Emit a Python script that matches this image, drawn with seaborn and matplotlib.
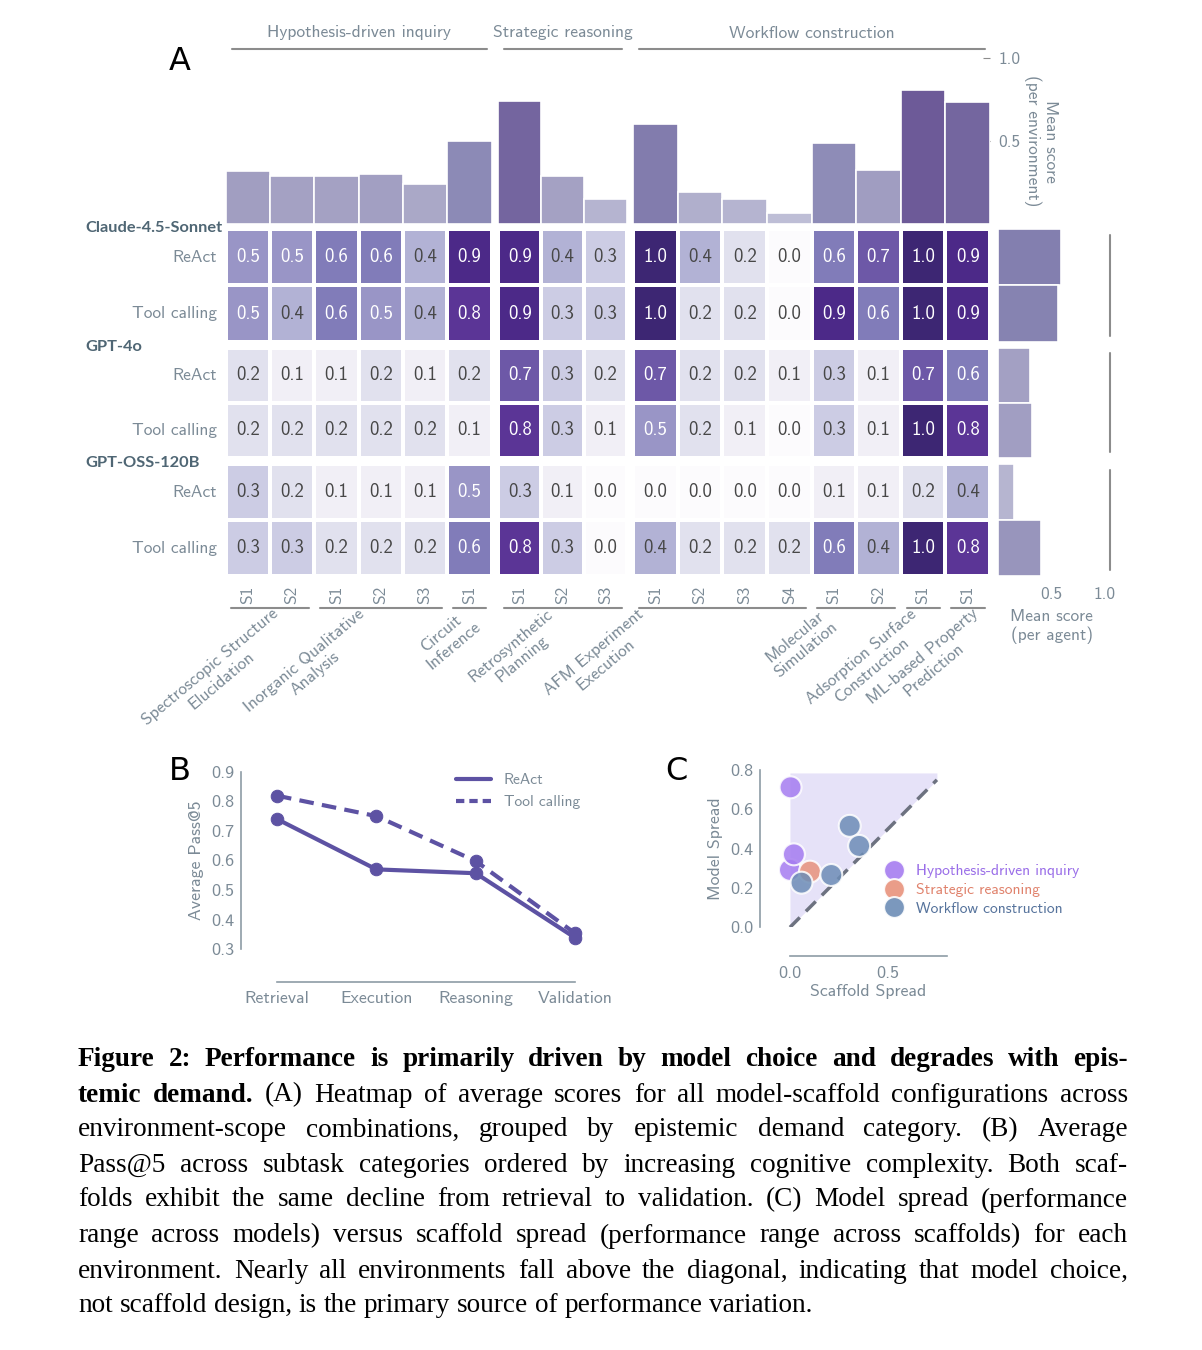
import numpy as np
import pandas as pd
import matplotlib
matplotlib.use('Agg')
import matplotlib.pyplot as plt
from matplotlib.lines import Line2D
from matplotlib.colors import LinearSegmentedColormap
from matplotlib import transforms
import seaborn as sns

sns.set_style('white')
plt.rcParams['font.family'] = ['cmss10', 'DejaVu Sans']
plt.rcParams['axes.unicode_minus'] = False

TXT = '#7b8a96'
DARK = '#4f6674'
SPINE = '#8e9ca6'
RULE = '#8c8c8c'
LINE = '#5d52a3'

# ---- data ----
groups = ['Hypothesis-driven inquiry', 'Strategic reasoning', 'Workflow construction']
envs = ['Spectroscopic Structure\nElucidation', 'Inorganic Qualitative\nAnalysis',
        'Circuit\nInference', 'Retrosynthetic\nPlanning', 'AFM Experiment\nExecution',
        'Molecular\nSimulation', 'Adsorption Surface\nConstruction',
        'ML-based Property\nPrediction']
env_group = [0, 0, 0, 1, 2, 2, 2, 2]
env_scopes = [['S1', 'S2'], ['S1', 'S2', 'S3'], ['S1'], ['S1', 'S2', 'S3'],
              ['S1', 'S2', 'S3', 'S4'], ['S1', 'S2'], ['S1'], ['S1']]
models = ['Claude-4.5-Sonnet', 'GPT-4o', 'GPT-OSS-120B']
scaffolds = ['ReAct', 'Tool calling']

scores = np.array([
    [0.5, 0.5, 0.6, 0.6, 0.4, 0.9, 0.9, 0.4, 0.3, 1.0, 0.4, 0.2, 0.0, 0.6, 0.7, 1.0, 0.9],
    [0.5, 0.4, 0.6, 0.5, 0.4, 0.8, 0.9, 0.3, 0.3, 1.0, 0.2, 0.2, 0.0, 0.9, 0.6, 1.0, 0.9],
    [0.2, 0.1, 0.1, 0.2, 0.1, 0.2, 0.7, 0.3, 0.2, 0.7, 0.2, 0.2, 0.1, 0.3, 0.1, 0.7, 0.6],
    [0.2, 0.2, 0.2, 0.2, 0.2, 0.1, 0.8, 0.3, 0.1, 0.5, 0.2, 0.1, 0.0, 0.3, 0.1, 1.0, 0.8],
    [0.3, 0.2, 0.1, 0.1, 0.1, 0.5, 0.3, 0.1, 0.0, 0.0, 0.0, 0.0, 0.0, 0.1, 0.1, 0.2, 0.4],
    [0.3, 0.3, 0.2, 0.2, 0.2, 0.6, 0.8, 0.3, 0.0, 0.4, 0.2, 0.2, 0.2, 0.6, 0.4, 1.0, 0.8],
])
env_mean = [0.32, 0.285, 0.29, 0.30, 0.24, 0.50, 0.74, 0.285, 0.15,
            0.60, 0.19, 0.15, 0.066, 0.486, 0.325, 0.805, 0.735]
agent_mean = [0.584, 0.56, 0.296, 0.315, 0.143, 0.40]

subtasks = ['Retrieval', 'Execution', 'Reasoning', 'Validation']
react_pass = [0.74, 0.57, 0.557, 0.339]
tool_pass = [0.819, 0.75, 0.598, 0.354]

scaffold_spread = [0.0, 0.02, 0.003, 0.102, 0.059, 0.305, 0.353, 0.211]
model_spread = [0.292, 0.371, 0.712, 0.283, 0.227, 0.516, 0.414, 0.266]
grp_colors = ['#a57cf0', '#e8927c', '#6d8db6']
grp_text = ['#9a6ee8', '#e0826c', '#56739c']

# ---- layout (pixels) ----
W, H = 1202, 1350
col_px = [(225.7, 491.7), (498.3, 626.7), (633.3, 990.0)]
row_px = [(229.3, 341.7), (347.7, 457.7), (464.3, 576.0)]
env_label_px = [271, 357, 462, 546, 637, 819, 909, 971]

fig = plt.figure(figsize=(W / 100, H / 100), dpi=100)


def px_axes(x0, y0, x1, y1):
    return fig.add_axes([x0 / W, 1 - y1 / H, (x1 - x0) / W, (y1 - y0) / H])


def fy(y):
    return 1 - y / H


col_env = [e for e, sc in enumerate(env_scopes) for _ in sc]
col_scope = [s for sc in env_scopes for s in sc]
col_group = [env_group[e] for e in col_env]
col_id = [f'{e}-{s}' for e, s in zip(col_env, col_scope)]
grp_cols = [[k for k, g in enumerate(col_group) if g == j] for j in range(3)]

# Purples, with a slightly softer dark end like the original
purp = plt.cm.Purples
cell_cmap = LinearSegmentedColormap.from_list(
    'cells', [purp(x) for x in np.linspace(0, 0.88, 12)] + ['#4a2a86', '#3d2673'])

# ---- A: heatmap blocks ----
hm_bottom = {}
for i in range(3):
    for j in range(3):
        ax = px_axes(col_px[j][0], row_px[i][0], col_px[j][1], row_px[i][1])
        block = pd.DataFrame(scores[2 * i:2 * i + 2, grp_cols[j]], index=scaffolds,
                             columns=[col_scope[k] for k in grp_cols[j]])
        sns.heatmap(block, ax=ax, cmap=cell_cmap, vmin=0, vmax=1, annot=True, fmt='.1f',
                    cbar=False, linewidths=1.5, linecolor='white',
                    annot_kws={'fontsize': 13.5},
                    xticklabels=(i == 2), yticklabels=(j == 0))
        for t in ax.texts:
            if t.get_color() != 'w':
                t.set_color('#474747')
        ax.tick_params(length=0)
        ax.set_xlabel('')
        ax.set_ylabel('')
        if j == 0:
            ax.set_yticklabels(scaffolds, rotation=0, color=TXT, fontsize=12.5)
            ax.tick_params(axis='y', pad=6)
        if i == 2:
            ax.set_xticklabels(block.columns, rotation=90, color=TXT, fontsize=12.5)
            ax.tick_params(axis='x', pad=7)
            hm_bottom[j] = ax

for i, m in enumerate(models):
    fig.text(85 / W, fy(row_px[i][0] - 1), m, family=['Lato', 'DejaVu Sans'],
             weight='bold', fontsize=11.8, color=DARK, ha='left', va='center')

# environment underlines and names
for e, sc in enumerate(env_scopes):
    j = env_group[e]
    ks = [k for k in grp_cols[j] if col_env[k] == e]
    loc = [grp_cols[j].index(k) for k in ks]
    ax = hm_bottom[j]
    tr = transforms.blended_transform_factory(ax.transData, fig.transFigure)
    ax.add_line(Line2D([loc[0] + 0.13, loc[-1] + 0.88], [fy(608), fy(608)],
                       transform=tr, color=RULE, lw=1.5, clip_on=False))
    fig.text(env_label_px[e] / W, fy(606), envs[e], rotation=40, rotation_mode='anchor',
             ha='right', va='top', multialignment='center', color=TXT, fontsize=12.5)

# ---- A: top bars (mean per environment) ----
env_df = pd.DataFrame({'col': col_id, 'mean': env_mean, 'group': col_group})
bar_pal = {c: purp(0.35 + 0.5 * v) for c, v in zip(col_id, env_mean)}
for j in range(3):
    ax = px_axes(col_px[j][0], 58, col_px[j][1], 223.5)
    sub = env_df[env_df['group'] == j]
    sns.barplot(data=sub, x='col', y='mean', hue='col', palette=bar_pal, width=1,
                edgecolor='white', linewidth=1.2, legend=False, ax=ax)
    ax.set_xlim(-0.5, len(sub) - 0.5)
    ax.set_ylim(0, 1)
    for s in ax.spines.values():
        s.set_visible(False)
    ax.set_xticks([])
    ax.set_xlabel('')
    ax.set_ylabel('')
    if j == 2:
        ax.yaxis.tick_right()
        ax.set_yticks([0.5, 1.0])
        ax.set_yticklabels(['0.5', '1.0'])
        ax.tick_params(axis='y', direction='in', length=5, color=RULE,
                       labelcolor=TXT, labelsize=12.5, pad=6)
    else:
        ax.set_yticks([])

for j, g in enumerate(groups):
    x0, x1 = col_px[j]
    fig.add_artist(Line2D([(x0 + 6) / W, (x1 - 5) / W], [fy(49.3), fy(49.3)],
                          color=RULE, lw=1.5))
    fig.text((x0 + x1) / 2 / W, fy(33), g, ha='center', va='center', color=TXT,
             fontsize=12.6)

fig.text(1041 / W, fy(141), 'Mean score\n(per environment)', rotation=270,
         ha='center', va='center', multialignment='center', color=TXT, fontsize=12.5,
         linespacing=1.1)

# ---- A: right bars (mean per agent) ----
agent_df = pd.DataFrame({'agent': [f'{m} {s}' for m in models for s in scaffolds],
                         'mean': agent_mean, 'model': np.repeat(np.arange(3), 2)})
agent_pal = {a: purp(0.35 + 0.5 * v) for a, v in zip(agent_df['agent'], agent_mean)}
for i in range(3):
    ax = px_axes(998.4, row_px[i][0], 1105, row_px[i][1])
    sub = agent_df[agent_df['model'] == i]
    sns.barplot(data=sub, y='agent', x='mean', hue='agent', palette=agent_pal,
                orient='h', width=1, edgecolor='white', linewidth=1.2, legend=False, ax=ax)
    ax.set_xlim(0, 1)
    ax.set_ylim(1.5, -0.5)
    for s in ax.spines.values():
        s.set_visible(False)
    ax.set_yticks([])
    ax.set_ylabel('')
    ax.axvline(1.046, ymin=0.05, ymax=0.95, color=RULE, lw=1.5, clip_on=False)
    if i == 2:
        ax.set_xticks([0.5, 1.0])
        ax.set_xticklabels(['0.5', '1.0'])
        ax.tick_params(axis='x', direction='in', length=4, color=RULE,
                       labelcolor=TXT, labelsize=12.5, pad=8)
        ax.set_xlabel('Mean score\n(per agent)', color=TXT, fontsize=12.5, labelpad=5)
    else:
        ax.set_xticks([])
        ax.set_xlabel('')

# ---- B: pass@5 by subtask ----
ax = px_axes(241, 771.7, 590, 949.3)
pass_df = pd.DataFrame({'subtask': subtasks * 2,
                        'scaffold': [scaffolds[0]] * 4 + [scaffolds[1]] * 4,
                        'pass': react_pass + tool_pass})
sns.lineplot(data=pass_df, x='subtask', y='pass', style='scaffold', color=LINE,
             markers={scaffolds[0]: 'o', scaffolds[1]: 'o'},
             dashes={scaffolds[0]: '', scaffolds[1]: (3.5, 2)},
             markersize=9, linewidth=3, markeredgecolor=LINE, legend=False,
             sort=False, ax=ax)
ax.set_xlim(-0.362, 3.15)
ax.set_ylim(0.3, 0.9)
ax.set_yticks(np.arange(0.3, 0.91, 0.1))
ax.set_yticklabels([f'{v:.1f}' for v in np.arange(0.3, 0.91, 0.1)])
ax.set_xticks([0.5, 1.5, 2.5], minor=True)
sns.despine(ax=ax)
ax.spines['left'].set_bounds(0.3, 0.9)
ax.spines['bottom'].set_position(('outward', 23.3))
ax.spines['bottom'].set_bounds(0, 3)
for s in ['left', 'bottom']:
    ax.spines[s].set_color(SPINE)
    ax.spines[s].set_linewidth(1.2)
ax.tick_params(which='both', direction='in', length=5, color=SPINE, width=1.2,
               labelcolor=TXT, labelsize=13)
ax.tick_params(axis='x', labelsize=12.8, pad=7)
ax.tick_params(axis='y', pad=5)
ax.set_xlabel('')
ax.set_ylabel('Average Pass@5', color=TXT, fontsize=12.8, labelpad=5)
handles = [Line2D([0], [0], color=LINE, lw=3),
           Line2D([0], [0], color=LINE, lw=3, dashes=(2, 1.2))]
ax.legend(handles, scaffolds, loc='upper left', bbox_to_anchor=(0.575, 1.07),
          frameon=False, fontsize=11.2, labelcolor=TXT, handlelength=2.3)

# ---- C: model spread vs scaffold spread ----
ax = px_axes(760, 770, 946.7, 927.3)
spread_df = pd.DataFrame({'scaffold': scaffold_spread, 'model': model_spread,
                          'group': [groups[g] for g in env_group]})
ax.fill_between([0, 0.75], [0, 0.75], 0.785, color='#e6e2f8', lw=0)
ax.plot([0, 0.75], [0, 0.75], color='#6d7280', lw=2.5, dashes=(4, 2.5))
sns.scatterplot(data=spread_df, x='scaffold', y='model', hue='group',
                palette=dict(zip(groups, grp_colors)), s=250, edgecolor='white',
                linewidth=1.5, alpha=0.85, legend=False, ax=ax, clip_on=False, zorder=3)
ax.set_xlim(-0.153, 0.8)
ax.set_ylim(0, 0.8)
ax.set_xticks([0, 0.5])
ax.set_xticklabels(['0.0', '0.5'])
ax.set_yticks(np.arange(0, 0.81, 0.2))
ax.set_yticklabels([f'{v:.1f}' for v in np.arange(0, 0.81, 0.2)])
sns.despine(ax=ax)
ax.spines['left'].set_bounds(0, 0.8)
ax.spines['bottom'].set_position(('outward', 20.7))
ax.spines['bottom'].set_bounds(0, 0.8)
for s in ['left', 'bottom']:
    ax.spines[s].set_color(SPINE)
    ax.spines[s].set_linewidth(1.2)
ax.tick_params(direction='in', length=5, color=SPINE, width=1.2,
               labelcolor=TXT, labelsize=13)
ax.tick_params(axis='x', pad=7)
ax.tick_params(axis='y', pad=5)
ax.set_xlabel('Scaffold Spread', color=TXT, fontsize=12.8)
ax.xaxis.set_label_coords(0.578, -0.36)
ax.set_ylabel('Model Spread', color=TXT, fontsize=12.8, labelpad=5)
handles = [Line2D([0], [0], marker='o', ls='', ms=15, mfc=c, mec='white', mew=1.5, alpha=0.9)
           for c in grp_colors]
leg = ax.legend(handles, groups, loc='upper left', bbox_to_anchor=(0.6, 0.44),
                frameon=False, fontsize=11.2, handletextpad=0.4, labelspacing=0.3,
                borderaxespad=0)
for t, c in zip(leg.get_texts(), grp_text):
    t.set_color(c)

# panel letters
for lab, (x, y) in zip('ABC', [(180, 62), (180, 772), (676, 772)]):
    fig.text(x / W, fy(y), lab, fontsize=23, ha='center', va='center',
             family=['DejaVu Sans'], color='black')

# ---- caption (justified) ----
cap_lines = [
    [('Figure 2: Performance is primarily driven by model choice and degrades with epis-', 'bold')],
    [('temic demand.', 'bold'), ('(A) Heatmap of average scores for all model-scaffold configurations across', 'normal')],
    [('environment-scope combinations, grouped by epistemic demand category. (B) Average', 'normal')],
    [('Pass@5 across subtask categories ordered by increasing cognitive complexity. Both scaf-', 'normal')],
    [('folds exhibit the same decline from retrieval to validation. (C) Model spread (performance', 'normal')],
    [('range across models) versus scaffold spread (performance range across scaffolds) for each', 'normal')],
    [('environment. Nearly all environments fall above the diagonal, indicating that model choice,', 'normal')],
    [('not scaffold design, is the primary source of performance variation.', 'normal')],
]
cap_y = [1060, 1095, 1130, 1165, 1200, 1236, 1271, 1306]
CAP_X0, CAP_X1 = 78, 1128
CAP_FONT = ['Liberation Serif', 'DejaVu Serif']
renderer = fig.canvas.get_renderer()

# pick a size so the widest line, set with normal spaces, just fits the column
probe = []
for parts in cap_lines:
    t = fig.text(0, 0, ' '.join(p[0] for p in parts), fontsize=20, family=CAP_FONT,
                 weight=parts[0][1])
    probe.append(t.get_window_extent(renderer=renderer).width)
    t.remove()
cap_size = 20 * (CAP_X1 - CAP_X0 - 6) / max(probe)

for n, (parts, y) in enumerate(zip(cap_lines, cap_y)):
    words = [(w, wt) for text, wt in parts for w in text.split(' ') if w]
    arts, widths = [], []
    for w, wt in words:
        t = fig.text(0, fy(y), w, fontsize=cap_size, family=CAP_FONT,
                     weight=wt, va='center', ha='left', color='black')
        arts.append(t)
        widths.append(t.get_window_extent(renderer=renderer).width)
    if n < len(cap_lines) - 1:
        gap = (CAP_X1 - CAP_X0 - sum(widths)) / (len(words) - 1)
    else:
        gap = cap_size * 0.25 * 100 / 72
    x = CAP_X0
    for t, wd in zip(arts, widths):
        t.set_x(x / W)
        x += wd + gap

fig.savefig('out.png', dpi=100)
